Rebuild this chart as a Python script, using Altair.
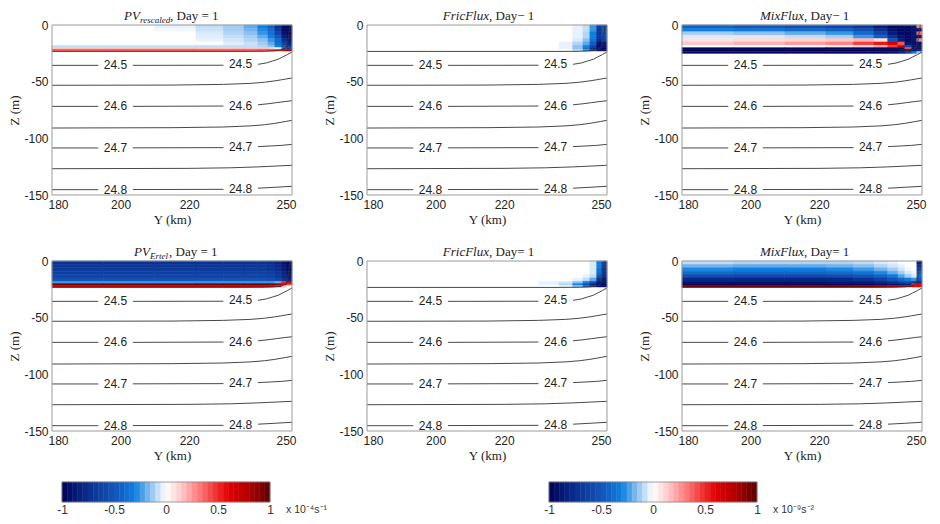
import altair as alt
import pandas as pd

# ---------------- data ----------------
Y_EDGES = [180, 195, 210, 222, 230, 236, 240, 243, 245, 247, 248.5, 250]
Z_EDGES = [0, -3, -6, -9, -12, -15, -18, -20, -21.5, -23.5, -25]

PV_RESCALED = [
    [0, 0, -0.03, -0.08, -0.12, -0.2, -0.3, -0.45, -0.75, -0.95, -0.95],
    [0, 0, -0.02, -0.07, -0.12, -0.18, -0.28, -0.4, -0.7, -0.95, -0.95],
    [0, 0, 0, -0.05, -0.1, -0.15, -0.25, -0.35, -0.6, -0.9, -0.95],
    [0, 0, 0, -0.04, -0.08, -0.12, -0.2, -0.3, -0.5, -0.85, -0.9],
    [0, 0, 0, -0.03, -0.06, -0.1, -0.15, -0.25, -0.4, -0.75, -0.85],
    [0, 0, 0, 0, -0.04, -0.07, -0.12, -0.2, -0.35, -0.6, -0.8],
    [-0.08, -0.08, -0.08, -0.08, -0.08, -0.08, -0.1, -0.15, -0.3, -0.5, -0.7],
    [0.15, 0.15, 0.15, 0.15, 0.15, 0.15, 0.15, 0.1, 0.0, -0.4, -0.6],
    [0.4, 0.4, 0.4, 0.4, 0.4, 0.4, 0.42, 0.45, 0.5, 0.65, 0.75],
    [0, 0, 0, 0, 0, 0, 0, 0, 0, 0, 0],
]
FRIC_FLUX_A = [
    [0, 0, 0, 0, 0, 0, -0.03, -0.08, -0.25, -0.65, -0.55],
    [0, 0, 0, 0, 0, 0, -0.03, -0.08, -0.25, -0.7, -0.5],
    [0, 0, 0, 0, 0, 0, -0.03, -0.1, -0.3, -0.7, -0.5],
    [0, 0, 0, 0, 0, 0, -0.03, -0.1, -0.3, -0.7, -0.55],
    [0, 0, 0, 0, 0, 0, -0.05, -0.15, -0.35, -0.75, -0.6],
    [0, 0, 0, 0, 0, -0.03, -0.1, -0.2, -0.45, -0.9, -0.85],
    [0, 0, 0, 0, 0, -0.03, -0.15, -0.3, -0.65, -0.95, -0.9],
    [0, 0, 0, 0, 0, -0.03, -0.15, -0.35, -0.75, -0.95, -0.95],
    [0, 0, 0, 0, 0, 0, -0.08, -0.25, -0.6, -0.9, -0.9],
    [0, 0, 0, 0, 0, 0, 0, 0, 0, 0, 0],
]
MIX_FLUX_A = [
    [-0.45, -0.5, -0.55, -0.6, -0.7, -0.85, -0.95, -0.95, -0.95, -0.9, 0.3],
    [-0.3, -0.35, -0.4, -0.45, -0.55, -0.75, -0.9, -0.95, -0.95, -0.9, -0.9],
    [-0.12, -0.15, -0.2, -0.25, -0.4, -0.6, -0.85, -0.95, -0.95, -0.9, 0.35],
    [-0.05, -0.05, -0.08, -0.12, -0.25, -0.45, -0.75, -0.9, -0.95, -0.9, -0.9],
    [0.08, 0.1, 0.12, 0.15, 0.2, 0.1, -0.5, -0.85, -0.95, -0.9, 0.3],
    [0.15, 0.2, 0.25, 0.3, 0.45, 0.55, 0.65, 0.4, -0.9, -0.9, -0.9],
    [0, 0, 0, 0.05, 0.1, 0.2, 0.45, 0.7, -0.6, -0.9, -0.9],
    [-0.95, -0.95, -0.95, -0.95, -0.95, -0.95, -0.95, -0.9, 0.4, -0.9, -0.9],
    [-1, -1, -1, -1, -1, -1, -1, -0.95, -0.95, -0.9, -0.8],
    [-0.95, -0.95, -0.95, -0.95, -0.95, -0.95, -0.9, -0.8, -0.6, -0.3, -0.1],
]
PV_ERTEL = [
    [-0.72, -0.72, -0.72, -0.72, -0.72, -0.72, -0.72, -0.75, -0.8, -0.9, -0.95],
    [-0.7, -0.7, -0.7, -0.7, -0.7, -0.7, -0.7, -0.72, -0.78, -0.88, -0.95],
    [-0.67, -0.67, -0.67, -0.67, -0.67, -0.67, -0.67, -0.7, -0.75, -0.85, -0.95],
    [-0.64, -0.64, -0.64, -0.64, -0.64, -0.64, -0.64, -0.66, -0.72, -0.82, -0.9],
    [-0.6, -0.6, -0.6, -0.6, -0.6, -0.6, -0.6, -0.62, -0.68, -0.78, -0.85],
    [-0.52, -0.52, -0.52, -0.52, -0.52, -0.52, -0.52, -0.55, -0.6, -0.7, -0.8],
    [-0.25, -0.25, -0.25, -0.25, -0.25, -0.25, -0.25, -0.25, -0.2, 0.5, 0.7],
    [0.95, 0.95, 0.95, 0.95, 0.95, 0.95, 0.95, 0.9, 0.85, 0.7, 0.5],
    [0.7, 0.7, 0.7, 0.7, 0.7, 0.7, 0.7, 0.65, 0.55, 0.2, 0.0],
    [0, 0, 0, 0, 0, 0, 0, 0, 0, 0, 0],
]
FRIC_FLUX_B = [
    [0, 0, 0, 0, 0, 0, 0, 0, -0.05, -0.3, -0.6],
    [0, 0, 0, 0, 0, 0, 0, 0, -0.05, -0.3, -0.6],
    [0, 0, 0, 0, 0, 0, 0, 0, -0.05, -0.35, -0.65],
    [0, 0, 0, 0, 0, 0, 0, 0, -0.05, -0.4, -0.7],
    [0, 0, 0, 0, 0, 0, 0, -0.03, -0.08, -0.5, -0.75],
    [0, 0, 0, 0, 0, 0, -0.03, -0.08, -0.2, -0.7, -0.85],
    [0, 0, 0, 0, -0.03, -0.06, -0.15, -0.3, -0.55, -0.9, -0.9],
    [0, 0, 0, 0, -0.03, -0.1, -0.3, -0.55, -0.8, -0.95, -0.95],
    [0, 0, 0, 0, 0, -0.03, -0.15, -0.35, -0.65, -0.9, -0.9],
    [0, 0, 0, 0, 0, 0, 0, 0, 0, 0, 0],
]
MIX_FLUX_B = [
    [-0.08, -0.1, -0.1, -0.1, -0.08, -0.05, -0.03, 0, 0, 0, -0.85],
    [-0.18, -0.2, -0.2, -0.18, -0.15, -0.1, -0.06, -0.03, 0, 0, -0.75],
    [-0.28, -0.3, -0.3, -0.28, -0.24, -0.18, -0.12, -0.06, -0.02, 0, -0.6],
    [-0.4, -0.42, -0.42, -0.4, -0.35, -0.28, -0.2, -0.12, -0.05, -0.02, -0.45],
    [-0.55, -0.58, -0.58, -0.55, -0.5, -0.42, -0.32, -0.22, -0.12, -0.05, -0.4],
    [-0.78, -0.8, -0.8, -0.78, -0.72, -0.62, -0.5, -0.4, -0.3, -0.25, -0.5],
    [-0.92, -0.92, -0.92, -0.9, -0.88, -0.82, -0.75, -0.65, -0.6, -0.7, -0.8],
    [-0.97, -0.97, -0.97, -0.97, -0.95, -0.92, -0.88, -0.85, -0.8, 0.5, 0.6],
    [0.92, 0.92, 0.92, 0.92, 0.9, 0.85, 0.8, 0.75, 0.7, 0.6, 0.6],
    [0, 0, 0, 0, 0, 0, 0, 0, 0, 0, 0],
]

# isopycnal contour segments (Y km, Z m); gaps leave room for the labels
CONTOURS = {
    "24.4": [(180, -23.3), (236, -23.3), (242, -23.2), (245, -22.8), (247, -22), (248.3, -20),
             (248.8, -14), (249.2, -6), (249.5, 0)],
    "24.5a": [(180, -35.6), (193.5, -35.6)],
    "24.5b": [(203.6, -35.6), (230, -35.5)],
    "24.5c": [(240.1, -34.7), (242.5, -33.5), (244.3, -31.8), (246, -30.2), (247.3, -28.2),
              (248.7, -26), (250, -23.8)],
    "24.55": [(180, -53.2), (215, -53), (230, -52.4), (238, -51.5), (242, -50.5), (245, -49.3),
              (247, -48.3), (248.5, -47.5), (250, -46.8)],
    "24.6a": [(180, -71.8), (193.5, -71.8)],
    "24.6b": [(203.6, -71.8), (230, -71.5)],
    "24.6c": [(240.1, -70.4), (243, -69.5), (245.5, -68.5), (248, -67.5), (250, -66.8)],
    "24.65": [(180, -90.9), (215, -90.6), (230, -90.0), (238, -89.0), (242, -88.0), (245, -86.8),
              (248, -85.2), (250, -84.1)],
    "24.7a": [(180, -108.5), (193.5, -108.5)],
    "24.7b": [(203.6, -108.4), (230, -108.2)],
    "24.7c": [(240.1, -107.3), (244, -106.7), (247, -106.2), (250, -105.3)],
    "24.75": [(180, -126.8), (220, -126.5), (232, -126), (240, -125.2), (245, -124.5), (250, -123.8)],
    "24.8a": [(180, -145.3), (193.5, -145.3)],
    "24.8b": [(203.6, -145.2), (230, -145)],
    "24.8c": [(240.1, -144), (245, -143.2), (250, -142.3)],
}
LABEL_TEXT = ["24.5", "24.6", "24.7", "24.8"]
LABEL_Y_LEFT = 198.5
LABEL_Y_RIGHT = 235.0
LABEL_Z_LEFT = [-35.6, -71.8, -108.5, -145.3]
LABEL_Z_RIGHT = [-34.7, -71.2, -108.0, -144.6]

Y_DOMAIN = [180, 250]
Z_DOMAIN = [-150, 0]
X_TICKS = [180, 200, 220, 250]
Z_TICKS = [0, -50, -100, -150]

CBAR_EDGES = [-1.0, -0.95, -0.9, -0.85, -0.8, -0.75, -0.7, -0.65, -0.6, -0.55, -0.5,
              -0.45, -0.4, -0.35, -0.3, -0.25, -0.2, -0.15, -0.1, -0.05, 0.0,
              0.05, 0.1, 0.15, 0.2, 0.25, 0.3, 0.35, 0.4, 0.45, 0.5,
              0.55, 0.6, 0.65, 0.7, 0.75, 0.8, 0.85, 0.9, 0.95, 1.0]
CBAR_TICKS = [-1, -0.5, 0, 0.5, 1]
CBAR_UNITS = ["x 10\u207b\u2074s\u207b\u00b9", "x 10\u207b\u2079s\u207b\u00b2"]

CMAP_STOPS = [-1, -0.75, -0.5, -0.3, -0.15, 0, 0.15, 0.3, 0.45, 0.6, 0.8, 1]
CMAP_COLORS = ["#000058", "#0a2f8e", "#1454b8", "#0d7fe0", "#8cc0f0", "#ffffff",
               "#ffc8c8", "#ff8484", "#f24040", "#e30000", "#b00000", "#5a0000"]

# ---------------- styling ----------------
W, H = 240, 170
CB_W, CB_H = 208, 20
CB_OFFSET = 10
SERIF = "Liberation Serif"
SANS = "Liberation Sans"
TXT = "#222222"

CS = alt.Scale(domain=CMAP_STOPS, range=CMAP_COLORS, type="linear", interpolate="rgb", clamp=True)
XS = alt.Scale(domain=Y_DOMAIN, nice=False, zero=False)
ZS = alt.Scale(domain=Z_DOMAIN, nice=False, zero=False)
XAX = alt.Axis(values=X_TICKS, title="Y (km)", labelFlush=True, labelFlushOffset=4, labelPadding=4,
               titlePadding=3, labelExpr="datum.value + ''")
ZAX = alt.Axis(values=Z_TICKS, title="Z (m)", labelPadding=4, titlePadding=2,
               labelExpr="datum.value + ''")


def heat_df(grid):
    rows = []
    for i, row in enumerate(grid):
        for j, v in enumerate(row):
            rows.append(dict(y0=Y_EDGES[j], y1=Y_EDGES[j + 1], z0=Z_EDGES[i], z1=Z_EDGES[i + 1], v=v))
    return pd.DataFrame(rows)


contour_rows = []
for name, pts in CONTOURS.items():
    for k, (yy, zz) in enumerate(pts):
        contour_rows.append(dict(seg=name, k=k, ykm=yy, zm=zz))
contour_df = pd.DataFrame(contour_rows)

label_rows = []
for t, zl, zr in zip(LABEL_TEXT, LABEL_Z_LEFT, LABEL_Z_RIGHT):
    label_rows.append(dict(t=t, ykm=LABEL_Y_LEFT, zm=zl))
    label_rows.append(dict(t=t, ykm=LABEL_Y_RIGHT, zm=zr))
label_df = pd.DataFrame(label_rows)

box_df = pd.DataFrame({"y0": [Y_DOMAIN[0]], "y1": [Y_DOMAIN[1]], "z0": [Z_DOMAIN[0]], "z1": [Z_DOMAIN[1]]})


def title_part(text, italic, size, align, offset, dy):
    return alt.Chart(pd.DataFrame({"t": [text]})).mark_text(
        font=SERIF, fontSize=size, fontStyle="italic" if italic else "normal",
        align=align, baseline="alphabetic", dy=dy, color=TXT
    ).encode(text="t:N", x=alt.value(W / 2 + offset), y=alt.value(-5))


def panel(grid, parts):
    heat = alt.Chart(heat_df(grid)).mark_rect(strokeWidth=0.6).encode(
        x=alt.X("y0:Q", scale=XS, axis=XAX), x2="y1:Q",
        y=alt.Y("z0:Q", scale=ZS, axis=ZAX), y2="z1:Q",
        color=alt.Color("v:Q", scale=CS, legend=None),
        stroke=alt.Stroke("v:Q", scale=CS, legend=None),
    )
    lines = alt.Chart(contour_df).mark_line(color="#333333", strokeWidth=0.9).encode(
        x=alt.X("ykm:Q", scale=XS, axis=XAX),
        y=alt.Y("zm:Q", scale=ZS, axis=ZAX),
        detail="seg:N", order="k:Q",
    )
    labels = alt.Chart(label_df).mark_text(font=SANS, fontSize=12, color=TXT, baseline="middle").encode(
        x=alt.X("ykm:Q", scale=XS, axis=XAX),
        y=alt.Y("zm:Q", scale=ZS, axis=ZAX),
        text="t:N",
    )
    box = alt.Chart(box_df).mark_rect(fillOpacity=0, stroke="#9b9b9b", strokeWidth=1).encode(
        x=alt.X("y0:Q", scale=XS, axis=XAX), x2="y1:Q",
        y=alt.Y("z0:Q", scale=ZS, axis=ZAX), y2="z1:Q",
    )
    titles = [title_part(*p) for p in parts]
    return alt.layer(heat, lines, labels, box, *titles).properties(width=W, height=H)


p1 = panel(PV_RESCALED, [("PV", True, 13, "right", -32, 0), ("rescaled", True, 9, "left", -32, 3),
                         (", Day = 1", False, 13, "left", -2, 0)])
p2 = panel(FRIC_FLUX_A, [("FricFlux", True, 13, "right", 2, 0), (", Day\u2212 1", False, 13, "left", 2, 0)])
p3 = panel(MIX_FLUX_A, [("MixFlux", True, 13, "right", 2, 0), (", Day\u2212 1", False, 13, "left", 2, 0)])
p4 = panel(PV_ERTEL, [("PV", True, 13, "right", -22, 0), ("Ertel", True, 9, "left", -22, 3),
                      (", Day = 1", False, 13, "left", -3, 0)])
p5 = panel(FRIC_FLUX_B, [("FricFlux", True, 13, "right", 2, 0), (", Day= 1", False, 13, "left", 2, 0)])
p6 = panel(MIX_FLUX_B, [("MixFlux", True, 13, "right", 2, 0), (", Day= 1", False, 13, "left", 2, 0)])

row1 = alt.hconcat(p1, p2, p3, spacing=26)
row2 = alt.hconcat(p4, p5, p6, spacing=26)

# ---------------- colour bars ----------------
cb_df = pd.DataFrame({"a": CBAR_EDGES[:-1], "b": CBAR_EDGES[1:],
                      "c": [(p + q) / 2 for p, q in zip(CBAR_EDGES[:-1], CBAR_EDGES[1:])]})
frame_df = pd.DataFrame({"a": [CBAR_EDGES[0]], "b": [CBAR_EDGES[-1]]})


def cbar(unit, offset):
    sx = alt.Scale(domain=[-1, 1], range=[offset, offset + CB_W], nice=False, zero=False)
    ax = alt.Axis(values=CBAR_TICKS, labelFlush=False, labelPadding=2, title=None,
                  labelExpr="datum.value + ''", labelFontSize=12, labelColor="#333333")
    bands = alt.Chart(cb_df).mark_rect(strokeWidth=0.5).encode(
        x=alt.X("a:Q", scale=sx, axis=ax), x2="b:Q",
        y=alt.value(0), y2=alt.value(CB_H),
        color=alt.Color("c:Q", scale=CS, legend=None),
        stroke=alt.Stroke("c:Q", scale=CS, legend=None),
    )
    frame = alt.Chart(frame_df).mark_rect(fillOpacity=0, stroke="#8a8a8a", strokeWidth=0.8).encode(
        x=alt.X("a:Q", scale=sx, axis=ax), x2="b:Q", y=alt.value(0), y2=alt.value(CB_H),
    )
    txt = alt.Chart(pd.DataFrame({"a": [CBAR_EDGES[-1]], "t": [unit]})).mark_text(
        align="left", baseline="middle", dx=16, font=SANS, fontSize=10.5, color="#333333"
    ).encode(x=alt.X("a:Q", scale=sx, axis=ax), y=alt.value(CB_H + 8), text="t:N")
    return alt.layer(bands, frame, txt).properties(width=offset + CB_W, height=CB_H)


row3 = alt.hconcat(cbar(CBAR_UNITS[0], CB_OFFSET), cbar(CBAR_UNITS[1], 0), spacing=215)

chart = alt.vconcat(row1, row2, row3, spacing=18).properties(
    padding={"left": 0, "top": 1, "right": 0, "bottom": 0}
).configure_view(stroke="transparent").configure_axis(
    grid=False, ticks=False, domain=False, labelFont=SANS, labelFontSize=12, labelColor=TXT,
    titleFont=SERIF, titleFontSize=13, titleFontWeight="normal", titleColor=TXT
)

chart.save("out.html", embed_options={"renderer": "svg", "actions": False})
